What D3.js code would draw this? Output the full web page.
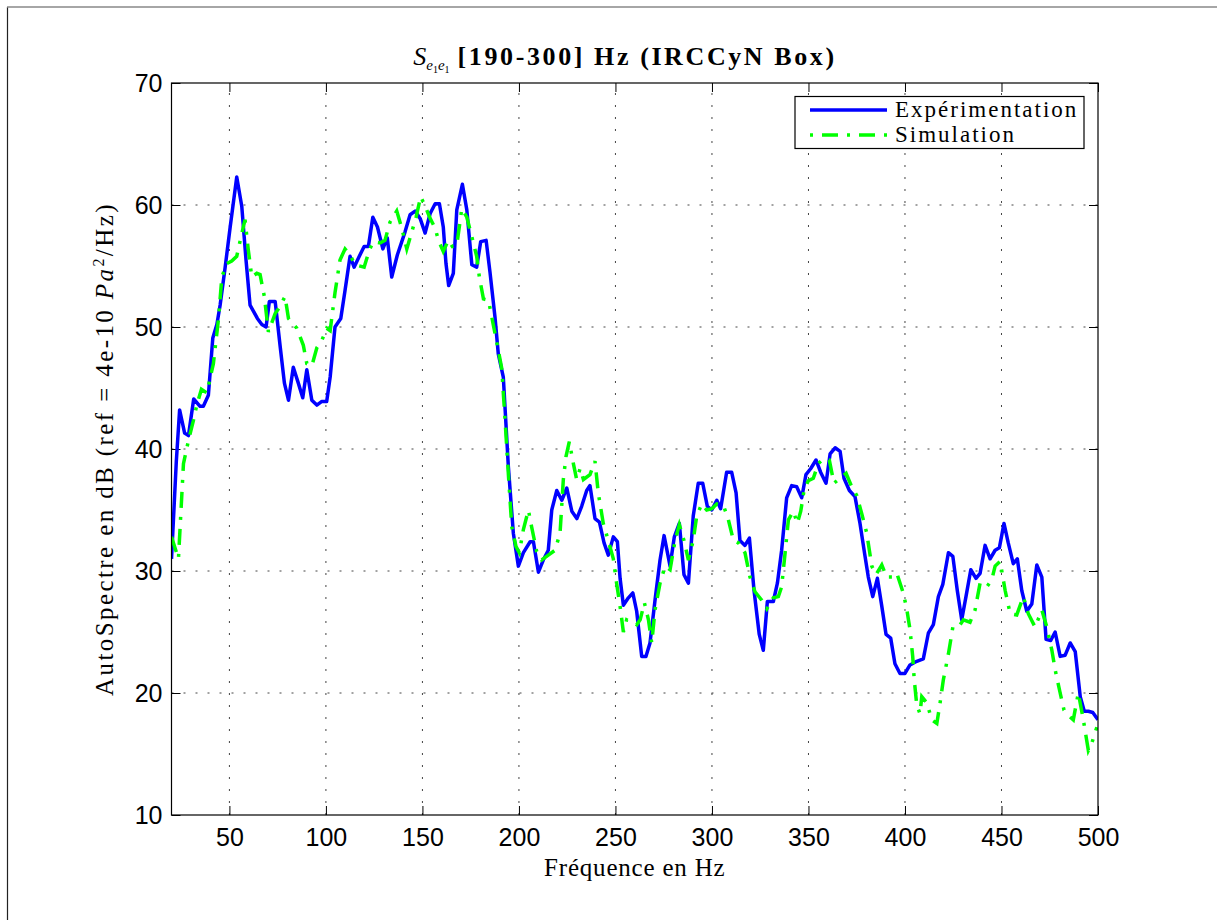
<!DOCTYPE html>
<html>
<head>
<meta charset="utf-8">
<script src="https://cdn.jsdelivr.net/npm/d3@7/dist/d3.min.js"></script>
<style>
  body { margin: 0; background: #fff; }
  .tick text { font-family: "Liberation Sans", Arial, sans-serif; font-size: 25px; fill: #000; }
</style>
</head>
<body>
<div id="chart"></div>
<script>
// Experimentation (blue, solid)
var expFreq = [20, 22.5, 24.2, 26.8, 28.8, 31.5, 34.8, 36.5, 39.1, 41.4, 43.5, 45.2, 47.8, 50.4, 53.8, 56.4, 58.6, 60.7,
    64.5, 66.8, 69.0, 70.7, 73.7, 76.3, 78.5, 80.6, 83.1, 85.7, 88.0, 90.1, 92.7, 95.3, 97.9, 100.4, 102.2, 104.7,
    107.7, 109.9, 112.5, 114.6, 117.3, 119.8, 122.0, 124.3, 126.7, 129.5, 131.8, 134.1, 137.0, 141.0, 143.6, 146.2,
    148.8, 151.4, 154.0, 156.6, 158.8, 160.8, 162.2, 163.6, 166.0, 167.8, 170.7, 173.0, 175.6, 178.1, 180.2, 183.0,
    185.0, 187.6, 189.3, 191.9, 194.5, 197.1, 199.7, 202.3, 205.8, 207.5, 210.1, 212.6, 215.2, 217.0, 219.6, 222.2,
    224.8, 227.4, 230.0, 232.5, 235.1, 236.8, 239.4, 241.7, 244.1, 246.3, 248.9, 251.0, 252.4, 254.1, 256.7, 259.0,
    261.0, 263.6, 265.8, 267.9, 270.5, 273.1, 275.2, 278.3, 280.5, 283.1, 285.5, 287.8, 290.3, 292.9, 295.2, 297.6,
    299.9, 302.5, 304.5, 307.6, 310.2, 312.5, 314.5, 317.1, 319.4, 321.8, 324.5, 326.6, 328.7, 331.8, 333.9, 336.1,
    338.7, 341.3, 343.9, 346.5, 348.7, 351.2, 353.9, 356.3, 359.1, 361.2, 363.8, 366.4, 368.4, 371.2, 374.1, 376.7,
    379.3, 381.0, 383.3, 385.7, 388.0, 390.2, 392.6, 394.8, 397.4, 400.0, 402.6, 406.1, 409.5, 412.1, 414.7, 417.3,
    419.6, 422.5, 424.8, 427.1, 429.4, 431.6, 434.1, 436.8, 438.9, 441.5, 444.1, 446.7, 448.9, 451.3, 453.5, 456.1,
    458.2, 460.5, 463.1, 465.7, 468.3, 470.9, 473.1, 475.5, 477.8, 480.4, 483.0, 485.6, 488.2, 490.8, 492.9, 495.0,
    497.3, 500]
var expDb = [31.0, 39.0, 43.2, 41.3, 41.1, 44.1, 43.5, 43.5, 44.4, 49.1, 50.2, 51.8, 54.9, 58.2, 62.3, 59.9, 55.5, 51.8,
    50.7, 50.2, 50.0, 52.1, 52.1, 48.4, 45.4, 44.0, 46.7, 45.4, 44.2, 46.5, 44.0, 43.6, 43.9, 43.9, 45.9, 50.0,
    50.7, 53.0, 55.8, 54.9, 55.8, 56.6, 56.6, 59.0, 58.2, 56.4, 57.3, 54.1, 55.9, 57.8, 59.2, 59.5,
    58.9, 57.7, 59.3, 60.1, 60.1, 58.2, 55.2, 53.4, 54.4, 59.6, 61.7, 59.6, 55.1, 54.9, 57.0, 57.1,
    54.5, 50.8, 47.8, 45.9, 38.6, 33.1, 30.4, 31.5, 32.4, 32.4, 29.9, 30.9, 31.7, 35.0, 36.6, 35.8,
    36.8, 34.9, 34.3, 35.3, 36.6, 37.0, 34.3, 34.0, 32.3, 31.3, 32.8, 32.4, 29.4, 27.2, 27.8, 28.2,
    26.7, 23.0, 23.0, 24.1, 27.6, 30.9, 32.9, 30.4, 32.8, 33.9, 29.7, 29.0, 34.5, 37.2, 37.2, 35.3,
    35.0, 35.8, 35.1, 38.1, 38.1, 36.4, 32.5, 32.1, 32.7, 28.4, 24.8, 23.5, 27.5, 27.5, 29.0, 31.7,
    36.0, 37.0, 36.9, 36.0, 37.9, 38.4, 39.1, 38.1, 37.2, 39.6, 40.1, 39.8, 37.6, 36.6, 36.1, 33.9,
    31.2, 29.5, 27.9, 29.4, 27.1, 24.8, 24.5, 22.4, 21.6, 21.6, 22.3, 22.6, 22.8, 24.9, 25.6, 27.9,
    28.9, 31.5, 31.2, 28.4, 26.0, 27.9, 30.1, 29.4, 29.8, 32.1, 31.0, 31.7, 31.9, 33.9, 32.3, 30.6,
    31.0, 28.4, 26.7, 27.3, 30.5, 29.5, 24.4, 24.3, 25.0, 23.0, 23.1, 24.1, 23.4, 19.7, 18.5, 18.5,
    18.4, 17.8]

// Simulation (green, dash-dot)
var simFreq = [20, 23.6, 26.2, 28.8, 31.3, 33.1, 35.5, 38.3, 41.7, 44.3, 46.1, 48.6, 51.2, 53.8, 55.9, 58.1, 59.8, 61.6,
    64.2, 65.9, 68.1, 70.2, 73.7, 76.3, 78.8, 80.6, 84.9, 88.3, 90.1, 92.7, 95.3, 97.9, 100.4, 102.2, 104.7, 107.3,
    109.9, 112.5, 115.1, 119.8, 122.5, 124.6, 128.1, 130.6, 133.2, 136.7, 139.3, 141.9, 144.5, 146.7, 149.1, 151.4,
    154.0, 156.6, 158.3, 160.8, 163.4, 165.5, 167.8, 170.4, 173.0, 175.6, 178.1, 179.5, 181.6, 184.2, 186.7, 189.3,
    191.1, 192.8, 194.5, 196.3, 198.5, 200.2, 202.3, 204.9, 206.6, 209.2, 211.8, 215.2, 218.7, 221.3, 223.0, 224.4,
    226.1, 228.2, 229.9, 231.7, 233.4, 236.8, 239.4, 241.1, 243.7, 246.3, 248.9, 250.6, 252.4, 254.1, 255.8, 258.4,
    261.0, 262.8, 265.0, 267.1, 268.8, 270.5, 273.1, 275.7, 278.3, 280.9, 283.1, 285.5, 287.8, 290.3, 292.1, 294.7,
    297.3, 299.9, 302.5, 305.9, 308.5, 311.1, 313.7, 317.1, 319.7, 322.3, 325.8, 328.4, 331.8, 334.4, 336.1, 337.9,
    339.6, 342.2, 344.2, 346.0, 347.7, 349.9, 352.5, 355.1, 357.7, 360.8, 363.2, 366.4, 369.5, 372.4, 375.0, 377.6,
    380.2, 382.8, 385.0, 388.0, 390.5, 394.0, 395.8, 399.1, 400.9, 402.6, 404.0, 404.8, 406.1, 407.8, 408.7, 411.3,
    413.9, 416.5, 418.2, 419.9, 422.5, 424.8, 427.7, 430.3, 433.7, 436.3, 438.9, 442.4, 445.0, 446.7, 449.3, 451.9,
    454.5, 457.9, 461.3, 463.9, 467.4, 470.9, 473.5, 476.1, 477.8, 480.4, 482.4, 485.1, 487.2, 489.8, 492.4, 495.0,
    496.8, 499.4]
var simDb = [32.8, 31.0, 38.8, 40.7, 42.3, 43.6, 44.9, 44.6, 47.0, 50.6, 54.1, 55.2, 55.4, 55.8, 57.3, 58.8, 56.3, 54.1,
    54.4, 54.3, 52.5, 49.6, 51.1, 51.7, 52.5, 50.7, 49.9, 48.5, 47.0, 46.8, 48.3, 48.9, 49.9, 49.7, 52.8, 55.5,
    56.4, 55.9, 55.1, 54.9, 56.3, 57.0, 56.9, 57.1, 58.6, 59.5, 58.1, 56.4, 57.8, 59.0, 60.7, 59.9,
    58.9, 58.1, 57.1, 56.2, 57.1, 56.6, 56.7, 59.7, 59.0, 57.4, 55.8, 54.1, 52.3, 52.2, 50.2, 48.1,
    46.6, 42.4, 38.0, 33.6, 32.0, 31.5, 33.4, 35.0, 33.6, 31.6, 30.9, 31.3, 31.7, 33.1, 37.5, 39.4,
    40.6, 38.8, 37.5, 38.4, 37.5, 37.9, 39.0, 36.4, 33.9, 32.5, 31.0, 29.0, 27.1, 25.0, 26.0, 25.8,
    25.6, 26.0, 27.4, 26.0, 24.1, 26.8, 29.0, 30.4, 30.1, 32.5, 33.8, 32.5, 30.9, 32.5, 34.5, 35.5,
    35.0, 35.1, 35.5, 35.4, 34.2, 32.5, 32.3, 31.5, 29.5, 28.3, 27.6, 26.9, 27.8, 27.9, 28.7, 31.5,
    34.2, 34.9, 33.9, 34.9, 36.6, 37.4, 37.6, 38.8, 39.2, 39.1, 37.2, 37.6, 38.0, 36.9, 36.2, 34.7,
    33.1, 30.4, 29.7, 30.5, 29.5, 29.5, 29.8, 28.2, 26.9, 25.2, 23.0, 21.1, 19.0, 18.3, 19.7, 19.2,
    17.8, 17.5, 19.2, 21.1, 23.2, 25.4, 25.4, 26.0, 25.8, 26.8, 29.0, 28.7, 29.3, 30.4, 30.8, 28.4,
    26.5, 26.4, 27.9, 26.5, 25.4, 26.8, 25.4, 23.5, 21.9, 20.0, 18.6, 18.1, 17.8, 20.0, 17.8, 15.3,
    15.9, 17.2]

var xTicks = [50, 100, 150, 200, 250, 300, 350, 400, 450, 500]
var yTicks = [10, 20, 30, 40, 50, 60, 70]
var legendNames = ["Expérimentation", "Simulation"]

var W = 1217, H = 920
var margin = { left: 171.5, right: 119, top: 83, bottom: 105 }
var width = W - margin.left - margin.right,
    height = H - margin.top - margin.bottom
var serif = '"Liberation Serif", "Times New Roman", serif'
var tickLen = 9

var svg = d3.select("#chart").append("svg")
    .attr("width", W)
    .attr("height", H)

// figure frame (left and top edges)
svg.append("line").attr("x1", 7.5).attr("x2", 7.5).attr("y1", 7).attr("y2", H)
    .attr("stroke", "#222").attr("stroke-width", 1.2)
svg.append("line").attr("x1", 7).attr("x2", W).attr("y1", 7).attr("y2", 7)
    .attr("stroke", "#888").attr("stroke-width", 1.5)

var g = svg.append("g")
    .attr("transform", "translate(" + margin.left + "," + margin.top + ")")

var x = d3.scaleLinear().domain([20, 500]).range([0, width])
var y = d3.scaleLinear().domain([10, 70]).range([height, 0])

// dotted grid
var grid = g.append("g").attr("stroke", "#444").attr("stroke-width", 1).attr("stroke-dasharray", "2,10")
grid.selectAll(".gx").data(xTicks.filter(function(d){ return d < 500 }))
    .enter().append("line")
    .attr("x1", function(d){ return x(d) }).attr("x2", function(d){ return x(d) })
    .attr("y1", height).attr("y2", 0)
grid.selectAll(".gy").data(yTicks.filter(function(d){ return d > 10 && d < 70 }))
    .enter().append("line")
    .attr("x1", 0).attr("x2", width)
    .attr("y1", function(d){ return y(d) }).attr("y2", function(d){ return y(d) })

// axes, ticks inside
g.append("g").attr("transform", "translate(0," + height + ")")
    .call(d3.axisBottom(x).tickValues(xTicks).tickSize(-tickLen).tickPadding(13).tickFormat(d3.format("d")))
g.append("g")
    .call(d3.axisLeft(y).tickValues(yTicks).tickSize(-tickLen).tickPadding(9).tickFormat(d3.format("d")))
g.append("g").call(d3.axisTop(x).tickValues(xTicks).tickSize(-tickLen).tickFormat(""))
g.append("g").attr("transform", "translate(" + width + ",0)")
    .call(d3.axisRight(y).tickValues(yTicks).tickSize(-tickLen).tickFormat(""))
g.selectAll(".domain").remove()
g.selectAll(".tick line").attr("stroke", "#000")

// series
g.append("clipPath").attr("id", "clip").append("rect").attr("width", width).attr("height", height)

function pairs(fs, vs){
    return fs.map(function(f, i){ return [f, vs[i]] })
}
var line = d3.line()
    .x(function(d){ return x(d[0]) })
    .y(function(d){ return y(d[1]) })

var plot = g.append("g").attr("clip-path", "url(#clip)")
plot.append("path").datum(pairs(expFreq, expDb))
    .attr("d", line)
    .attr("fill", "none").attr("stroke", "#0000ff").attr("stroke-width", 3.5)
    .attr("stroke-linejoin", "round")
plot.append("path").datum(pairs(simFreq, simDb))
    .attr("d", line)
    .attr("fill", "none").attr("stroke", "#00ff00").attr("stroke-width", 3.5)
    .attr("stroke-dasharray", "16,9,3,9")

// box
g.append("rect").attr("width", width).attr("height", height)
    .attr("fill", "none").attr("stroke", "#000").attr("stroke-width", 1.2)

// title
var title = svg.append("text")
    .attr("x", 625).attr("y", 65)
    .attr("text-anchor", "middle")
    .attr("font-family", serif).attr("font-size", 26)
title.append("tspan").attr("font-style", "italic").text("S")
title.append("tspan").attr("font-style", "italic").attr("font-size", 15).attr("dy", 5).text("e")
title.append("tspan").attr("font-size", 10).attr("dy", 3).text("1")
title.append("tspan").attr("font-style", "italic").attr("font-size", 15).attr("dy", -3).text("e")
title.append("tspan").attr("font-size", 10).attr("dy", 3).text("1")
title.append("tspan").attr("font-weight", "bold").attr("letter-spacing", 2.6)
    .attr("dy", -8).attr("dx", 8).text("[190-300] Hz (IRCCyN Box)")

// axis labels
svg.append("text")
    .attr("x", margin.left + width / 2).attr("y", 876)
    .attr("text-anchor", "middle")
    .attr("font-family", serif).attr("font-size", 25).attr("letter-spacing", 0.8)
    .text("Fréquence en Hz")

var ylab = svg.append("text")
    .attr("transform", "translate(113," + (margin.top + height / 2) + ") rotate(-90)")
    .attr("text-anchor", "middle")
    .attr("font-family", serif).attr("font-size", 25).attr("letter-spacing", 2.4)
ylab.append("tspan").text("AutoSpectre en dB (ref = 4e-10 ")
ylab.append("tspan").attr("font-style", "italic").text("Pa")
ylab.append("tspan").attr("font-size", 16).attr("dy", -9).text("2")
ylab.append("tspan").attr("dy", 9).text("/Hz)")

// legend
var leg = svg.append("g")
leg.append("rect").attr("x", 795).attr("y", 96.5).attr("width", 289).attr("height", 52)
    .attr("fill", "#fff").attr("stroke", "#000").attr("stroke-width", 1.2)
var legStyles = [
    { color: "#0000ff", dash: null },
    { color: "#00ff00", dash: "3,9,16,9" }
]
legendNames.forEach(function(name, i){
    var yy = 110 + i * 25
    leg.append("line").attr("x1", 810).attr("x2", 887).attr("y1", yy).attr("y2", yy)
        .attr("stroke", legStyles[i].color).attr("stroke-width", 3.5)
        .attr("stroke-dasharray", legStyles[i].dash)
    leg.append("text").attr("x", 895).attr("y", yy + 7)
        .attr("font-family", serif).attr("font-size", 23).attr("letter-spacing", 2)
        .text(name)
})
</script>
</body>
</html>
